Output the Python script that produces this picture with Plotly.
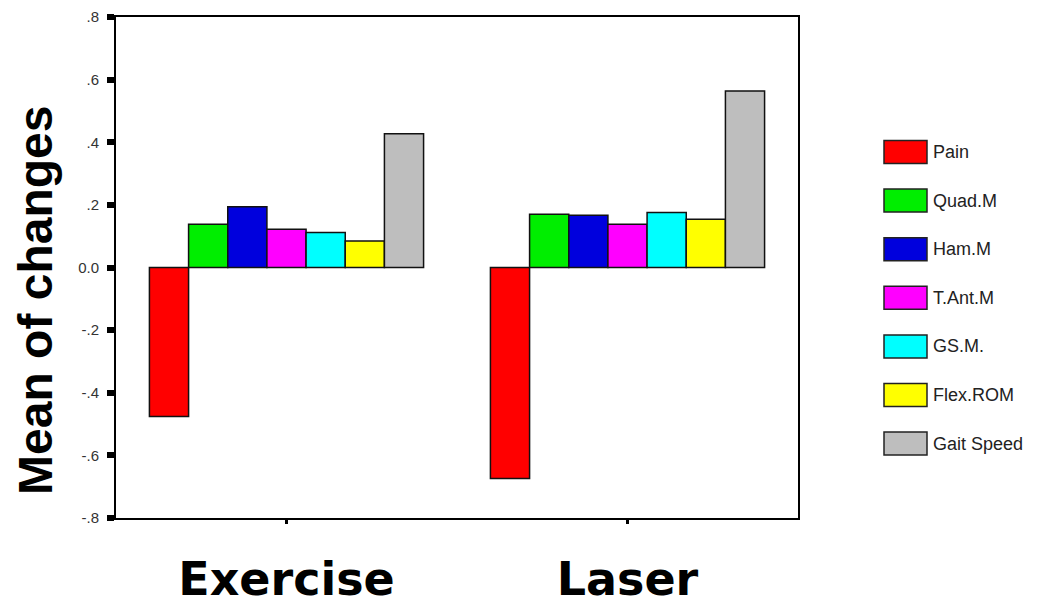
import plotly.graph_objects as go

groups = ["Exercise", "Laser"]
series_names = ["Pain", "Quad.M", "Ham.M", "T.Ant.M", "GS.M.", "Flex.ROM", "Gait Speed"]
exercise_vals = [-0.476, 0.138, 0.194, 0.122, 0.112, 0.085, 0.427]
laser_vals = [-0.674, 0.170, 0.167, 0.138, 0.176, 0.154, 0.564]
colors = ["#FF0000", "#00EE00", "#0000DD", "#FF00FF", "#00FFFF", "#FFFF00", "#BEBEBE"]
y_tick_vals = [0.8, 0.6, 0.4, 0.2, 0.0, -0.2, -0.4, -0.6, -0.8]
y_tick_text = [".8", ".6", ".4", ".2", "0.0", "-.2", "-.4", "-.6", "-.8"]

fig = go.Figure()
for i, name in enumerate(series_names):
    fig.add_trace(go.Bar(
        x=groups,
        y=[exercise_vals[i], laser_vals[i]],
        name=name,
        marker=dict(color=colors[i], line=dict(color="#111111", width=1.5)),
        showlegend=False,
    ))

# manual legend (large swatches like the original)
box_x0, box_x1 = (884 - 116) / 682, (927 - 116) / 682
text_x = (931 - 116) / 682
first_y = (518 - 152) / 501
step = 48.6 / 501
half_h = 11.5 / 501
shapes = []
annotations = []
for i, name in enumerate(series_names):
    yc = first_y - i * step
    shapes.append(dict(type="rect", xref="paper", yref="paper",
                       x0=box_x0, x1=box_x1, y0=yc - half_h, y1=yc + half_h,
                       fillcolor=colors[i], line=dict(color="#222222", width=1.5)))
    annotations.append(dict(xref="paper", yref="paper", x=text_x, y=yc,
                            text=name, showarrow=False, xanchor="left", yanchor="middle",
                            font=dict(family="Liberation Sans, Arial", size=18, color="#222222")))

annotations.append(dict(xref="paper", yref="paper", x=-0.119, y=0.435,
                        text="<b>Mean of changes</b>", showarrow=False, textangle=-90,
                        xanchor="center", yanchor="middle",
                        font=dict(family="Liberation Sans, Arial", size=48, color="#000000")))

fig.update_layout(
    width=1041, height=597,
    margin=dict(l=108, r=251, t=9, b=87, autoexpand=False),
    paper_bgcolor="white", plot_bgcolor="white",
    barmode="group", bargap=0.196, bargroupgap=0,
    shapes=shapes, annotations=annotations,
    showlegend=False,
)
fig.update_yaxes(
    range=[-0.8, 0.8], tickvals=y_tick_vals, ticktext=y_tick_text,
    showgrid=False, zeroline=False, automargin=False,
    showline=True, linecolor="#000000", linewidth=2, mirror=True,
    ticks="outside", ticklen=7, tickwidth=6, tickcolor="#000000",
    ticklabelstandoff=5,
    tickfont=dict(family="Liberation Sans, Arial", size=15, color="#333333"),
)
fig.update_xaxes(
    showgrid=False, zeroline=False, automargin=False,
    showline=True, linecolor="#000000", linewidth=2, mirror=True,
    ticks="outside", ticklen=4, tickwidth=3, tickcolor="#000000",
    tickfont=dict(family="DejaVu Sans", size=46, color="#000000"),
    ticklabelstandoff=16,
    tickvals=groups, ticktext=["<b>Exercise</b>", "<b>Laser</b>"],
)

fig.write_html("out.html")
